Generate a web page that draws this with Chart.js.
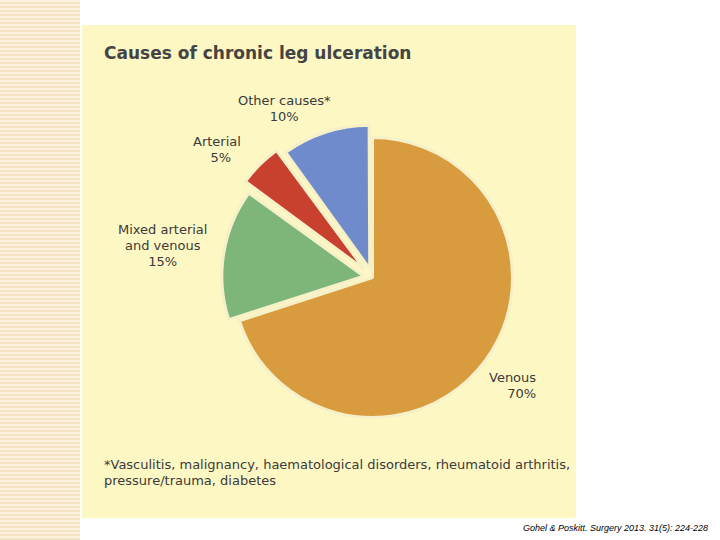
<!DOCTYPE html>
<html><head><meta charset="utf-8">
<script src="https://cdn.jsdelivr.net/npm/chart.js@4"></script>
<style>
body{margin:0;width:720px;height:540px;background:#fff;position:relative;overflow:hidden;font-family:"DejaVu Sans",sans-serif}
#strip{position:absolute;left:0;top:0;width:80px;height:540px;
 background:repeating-linear-gradient(0deg,#f3e3c4 0 2px,#fbf1dc 2px 4px)}
#panel{position:absolute;left:82px;top:25px;width:494px;height:493px;background:#fdf7c3}
.t{position:absolute;color:#3a3a3a;font-size:13px;line-height:16px}
#title{left:104px;top:45px;font-size:17px;font-weight:bold;color:#444}
#wrap{position:absolute;left:208px;top:113px;width:329px;height:329px}
#cite{position:absolute;right:12px;top:523px;font-size:9px;font-style:italic;font-family:Arial,"Liberation Sans",sans-serif}
</style></head><body>
<div id="strip"></div><div id="panel"></div>
<div class="t" id="title">Causes of chronic leg ulceration</div>
<div class="t" style="left:238px;top:93px;text-align:center">Other causes*<br>10%</div>
<div class="t" style="left:193px;top:134px;text-align:right;width:38px">Arterial<br>5%</div>
<div class="t" style="left:118px;top:222px;text-align:center">Mixed arterial<br>and venous<br>15%</div>
<div class="t" style="left:489px;top:370px;text-align:right">Venous<br>70%</div>
<div class="t" style="left:104px;top:457px">*Vasculitis, malignancy, haematological disorders, rheumatoid arthritis,<br>pressure/trauma, diabetes</div>
<div id="wrap"><canvas id="c"></canvas></div>
<div id="cite">Gohel &amp; Poskitt.  Surgery  2013. 31(5): 224-228</div>
<script>
const categories = ['Venous', 'Mixed arterial and venous', 'Arterial', 'Other causes*'];
const shares = [70, 15, 5, 10];
const colors = ['#d89b3e', '#7db57b', '#c8402e', '#6f8bcc'];
const offsets = [0, 36, 46, 36];
new Chart(document.getElementById('c'), {
  type: 'pie',
  data: { labels: categories, datasets: [{ data: shares, backgroundColor: colors,
    borderColor: '#f6f0c8', borderWidth: 3, offset: offsets }] },
  options: { responsive: true, maintainAspectRatio: false, animation: false,
    layout: { padding: 0 },
    plugins: { legend: { display: false }, tooltip: { enabled: false } } }
});
</script></body></html>
